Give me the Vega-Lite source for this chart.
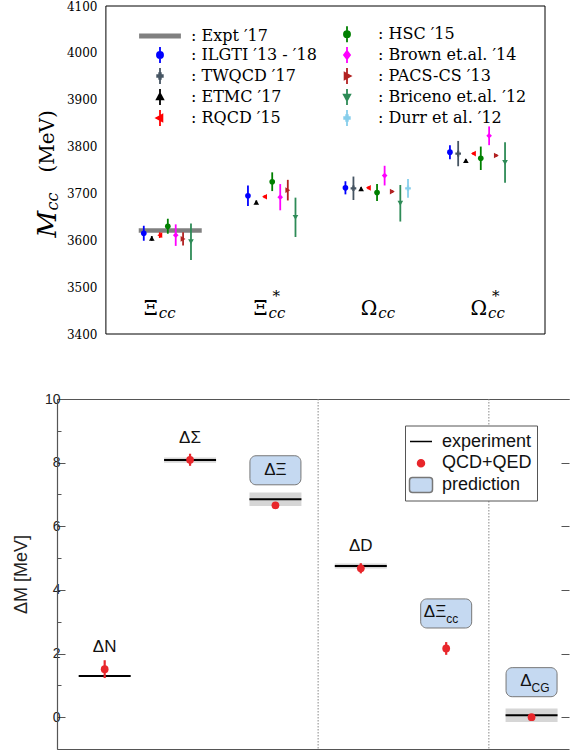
{
  "$schema": "https://vega.github.io/schema/vega-lite/v6.json",
  "background": "white",
  "padding": {"left": 12, "top": 0, "right": 0, "bottom": 0},
  "spacing": 52,
  "datasets": {
    "top": [
      {"collab": "ILGTI ′13 - ′18", "group": "Ξcc", "x": 0.345, "y": 3615, "lo": 3599, "hi": 3631},
      {"collab": "ETMC ′17", "group": "Ξcc", "x": 0.418, "y": 3604, "lo": 3599, "hi": 3609},
      {"collab": "RQCD ′15", "group": "Ξcc", "x": 0.491, "y": 3611, "lo": 3605, "hi": 3617},
      {"collab": "HSC ′15", "group": "Ξcc", "x": 0.564, "y": 3630, "lo": 3614, "hi": 3646},
      {"collab": "Brown et.al. ′14", "group": "Ξcc", "x": 0.636, "y": 3611, "lo": 3588, "hi": 3634},
      {"collab": "PACS-CS ′13", "group": "Ξcc", "x": 0.703, "y": 3603, "lo": 3589, "hi": 3617},
      {"collab": "Briceno et.al. ′12", "group": "Ξcc", "x": 0.775, "y": 3597, "lo": 3558, "hi": 3636},
      {"collab": "ILGTI ′13 - ′18", "group": "Ξ*cc", "x": 1.294, "y": 3695, "lo": 3673, "hi": 3717},
      {"collab": "ETMC ′17", "group": "Ξ*cc", "x": 1.370, "y": 3681, "lo": 3677, "hi": 3685},
      {"collab": "RQCD ′15", "group": "Ξ*cc", "x": 1.445, "y": 3693, "lo": 3690, "hi": 3696},
      {"collab": "HSC ′15", "group": "Ξ*cc", "x": 1.515, "y": 3725, "lo": 3705, "hi": 3745},
      {"collab": "Brown et.al. ′14", "group": "Ξ*cc", "x": 1.588, "y": 3692, "lo": 3664, "hi": 3720},
      {"collab": "PACS-CS ′13", "group": "Ξ*cc", "x": 1.657, "y": 3707, "lo": 3685, "hi": 3729},
      {"collab": "Briceno et.al. ′12", "group": "Ξ*cc", "x": 1.727, "y": 3649, "lo": 3607, "hi": 3691},
      {"collab": "ILGTI ′13 - ′18", "group": "Ωcc", "x": 2.182, "y": 3712, "lo": 3698, "hi": 3726},
      {"collab": "TWQCD ′17", "group": "Ωcc", "x": 2.255, "y": 3711, "lo": 3686, "hi": 3736},
      {"collab": "ETMC ′17", "group": "Ωcc", "x": 2.325, "y": 3710, "lo": 3707, "hi": 3713},
      {"collab": "RQCD ′15", "group": "Ωcc", "x": 2.391, "y": 3712, "lo": 3709, "hi": 3715},
      {"collab": "HSC ′15", "group": "Ωcc", "x": 2.470, "y": 3702, "lo": 3684, "hi": 3720},
      {"collab": "Brown et.al. ′14", "group": "Ωcc", "x": 2.539, "y": 3738, "lo": 3717, "hi": 3759},
      {"collab": "PACS-CS ′13", "group": "Ωcc", "x": 2.609, "y": 3704, "lo": 3701, "hi": 3707},
      {"collab": "Briceno et.al. ′12", "group": "Ωcc", "x": 2.682, "y": 3679, "lo": 3640, "hi": 3718},
      {"collab": "Durr et al. ′12", "group": "Ωcc", "x": 2.752, "y": 3711, "lo": 3691, "hi": 3731},
      {"collab": "ILGTI ′13 - ′18", "group": "Ω*cc", "x": 3.134, "y": 3788, "lo": 3773, "hi": 3803},
      {"collab": "TWQCD ′17", "group": "Ω*cc", "x": 3.209, "y": 3785, "lo": 3758, "hi": 3812},
      {"collab": "ETMC ′17", "group": "Ω*cc", "x": 3.279, "y": 3770, "lo": 3767, "hi": 3773},
      {"collab": "RQCD ′15", "group": "Ω*cc", "x": 3.348, "y": 3785, "lo": 3782, "hi": 3788},
      {"collab": "HSC ′15", "group": "Ω*cc", "x": 3.415, "y": 3775, "lo": 3750, "hi": 3800},
      {"collab": "Brown et.al. ′14", "group": "Ω*cc", "x": 3.491, "y": 3823, "lo": 3803, "hi": 3843},
      {"collab": "PACS-CS ′13", "group": "Ω*cc", "x": 3.557, "y": 3781, "lo": 3778, "hi": 3784},
      {"collab": "Briceno et.al. ′12", "group": "Ω*cc", "x": 3.636, "y": 3766, "lo": 3723, "hi": 3809}
    ],
    "expt": [{"collab": "Expt ′17", "group": "Ξcc", "x": 0.586, "y": 3621}],
    "cats": [
      {"main": "Ξ", "sub": "cc", "sup": "", "x": 0.5},
      {"main": "Ξ", "sub": "cc", "sup": "*", "x": 1.5},
      {"main": "Ω", "sub": "cc", "sup": "", "x": 2.5},
      {"main": "Ω", "sub": "cc", "sup": "*", "x": 3.5}
    ],
    "bottom": [
      {"name": "ΔN", "main": "ΔN", "sub": "", "pred": "no", "x": 0.5, "exp": 1.293, "explo": 1.283, "exphi": 1.303, "qcd": 1.51, "lo": 1.23, "hi": 1.79},
      {"name": "ΔΣ", "main": "ΔΣ", "sub": "", "pred": "no", "x": 1.5, "exp": 8.08, "explo": 8.0, "exphi": 8.16, "qcd": 8.09, "lo": 7.9, "hi": 8.28},
      {"name": "ΔΞ", "main": "ΔΞ", "sub": "", "pred": "yes", "x": 2.5, "exp": 6.85, "explo": 6.64, "exphi": 7.06, "qcd": 6.66, "lo": 6.6, "hi": 6.72},
      {"name": "ΔD", "main": "ΔD", "sub": "", "pred": "no", "x": 3.5, "exp": 4.75, "explo": 4.67, "exphi": 4.83, "qcd": 4.68, "lo": 4.52, "hi": 4.84},
      {"name": "ΔΞcc", "main": "ΔΞ", "sub": "cc", "pred": "yes", "x": 4.5, "exp": null, "explo": null, "exphi": null, "qcd": 2.16, "lo": 1.96, "hi": 2.36},
      {"name": "ΔCG", "main": "Δ", "sub": "CG", "pred": "yes", "x": 5.5, "exp": 0.06, "explo": -0.15, "exphi": 0.27, "qcd": 0.0, "lo": -0.08, "hi": 0.08}
    ],
    "sep": [{"x": 3}, {"x": 5}],
    "frame": [{"panel": "top"}]
  },
  "vconcat": [
    {
      "width": 488,
      "height": 328,
      "view": {"stroke": null},
      "resolve": {
        "axis": {"y": "independent"},
        "scale": {"shape": "independent", "fill": "independent", "stroke": "independent"},
        "legend": {"shape": "independent", "fill": "independent", "stroke": "independent"}
      },
      "layer": [
        {
          "data": {"name": "frame"},
          "mark": {"type": "rect", "fill": "transparent", "stroke": "black", "strokeWidth": 1},
          "encoding": {
            "x": {"datum": 0, "type": "quantitative", "scale": {"domain": [-0.4455, 4], "nice": false, "zero": false}, "axis": null},
            "x2": {"datum": 4},
            "y": {"datum": 3400, "type": "quantitative", "scale": {"domain": [3400, 4100], "nice": false, "zero": false},
              "axis": {"orient": "left", "offset": -49, "values": [3400, 3500, 3600, 3700, 3800, 3900, 4000, 4100], "format": "d", "ticks": false, "domain": false, "grid": false, "labelFlush": false,
                "labelFont": "DejaVu Serif", "labelFontSize": 12, "labelColor": "black", "labelPadding": 9,
                "title": "(MeV)", "titleFont": "DejaVu Serif", "titleFontSize": 20, "titleFontWeight": "normal", "titleColor": "black",
                "titleX": -53, "titleY": 166, "titleAngle": 270, "titleAlign": "left", "titleBaseline": "alphabetic"}},
            "y2": {"datum": 4100}
          }
        },
        {
          "data": {"name": "expt"},
          "mark": {"type": "tick", "orient": "horizontal", "size": 63, "thickness": 4.5, "color": "#808080", "opacity": 1},
          "encoding": {
            "x": {"field": "x", "type": "quantitative", "axis": null},
            "y": {"field": "y", "type": "quantitative", "axis": null}
          }
        },
        {
          "data": {"name": "top"},
          "mark": {"type": "rule", "strokeWidth": 1.8},
          "encoding": {
            "x": {"field": "x", "type": "quantitative", "axis": null},
            "y": {"field": "lo", "type": "quantitative",
              "axis": {"orient": "left", "offset": -49, "labels": false, "ticks": false, "domain": false, "grid": false,
                "title": "M", "titleFont": "DejaVu Serif", "titleFontSize": 26, "titleFontStyle": "italic", "titleFontWeight": "normal", "titleColor": "black",
                "titleX": -51, "titleY": 231, "titleAngle": 270, "titleAlign": "left", "titleBaseline": "alphabetic"}},
            "y2": {"field": "hi"},
            "color": {"field": "collab", "type": "nominal",
              "scale": {"domain": ["ILGTI ′13 - ′18", "TWQCD ′17", "ETMC ′17", "RQCD ′15", "HSC ′15", "Brown et.al. ′14", "PACS-CS ′13", "Briceno et.al. ′12", "Durr et al. ′12"],
                "range": ["#0000ff", "#465563", "#000000", "#ff0000", "#008000", "#ff00ff", "#b22222", "#2e8b57", "#87ceeb"]},
              "legend": null}
          }
        },
        {
          "data": {"name": "top"},
          "mark": {"type": "point", "filled": true, "opacity": 1, "size": 32},
          "encoding": {
            "x": {"field": "x", "type": "quantitative", "axis": null},
            "y": {"field": "y", "type": "quantitative",
              "axis": {"orient": "left", "offset": -49, "labels": false, "ticks": false, "domain": false, "grid": false,
                "title": "cc", "titleFont": "DejaVu Serif", "titleFontSize": 16, "titleFontStyle": "italic", "titleFontWeight": "normal", "titleColor": "black",
                "titleX": -49, "titleY": 204, "titleAngle": 270, "titleAlign": "left", "titleBaseline": "alphabetic"}},
            "color": {"field": "collab", "type": "nominal",
              "scale": {"domain": ["ILGTI ′13 - ′18", "TWQCD ′17", "ETMC ′17", "RQCD ′15", "HSC ′15", "Brown et.al. ′14", "PACS-CS ′13", "Briceno et.al. ′12", "Durr et al. ′12"],
                "range": ["#0000ff", "#465563", "#000000", "#ff0000", "#008000", "#ff00ff", "#b22222", "#2e8b57", "#87ceeb"]},
              "legend": null},
            "shape": {"field": "collab", "type": "nominal",
              "scale": {"domain": ["ILGTI ′13 - ′18", "TWQCD ′17", "ETMC ′17", "RQCD ′15", "HSC ′15", "Brown et.al. ′14", "PACS-CS ′13", "Briceno et.al. ′12", "Durr et al. ′12"],
                "range": ["circle", "cross", "triangle-up", "triangle-left", "circle", "diamond", "triangle-right", "triangle-down", "cross"]},
              "legend": null}
          }
        },
        {
          "data": {"name": "cats"},
          "mark": {"type": "text", "align": "right", "baseline": "alphabetic", "dx": -3, "font": "DejaVu Serif", "fontSize": 20, "color": "black"},
          "encoding": {
            "x": {"field": "x", "type": "quantitative", "axis": null},
            "y": {"datum": 3440, "type": "quantitative", "axis": null},
            "text": {"field": "main"}
          }
        },
        {
          "data": {"name": "cats"},
          "mark": {"type": "text", "align": "left", "baseline": "alphabetic", "dx": -2, "dy": 3, "font": "DejaVu Serif", "fontStyle": "italic", "fontSize": 15, "color": "black"},
          "encoding": {
            "x": {"field": "x", "type": "quantitative", "axis": null},
            "y": {"datum": 3440, "type": "quantitative", "axis": null},
            "text": {"field": "sub"}
          }
        },
        {
          "data": {"name": "cats"},
          "mark": {"type": "text", "align": "left", "baseline": "alphabetic", "dx": 2, "dy": -14, "font": "DejaVu Serif", "fontSize": 15, "color": "black"},
          "encoding": {
            "x": {"field": "x", "type": "quantitative", "axis": null},
            "y": {"datum": 3440, "type": "quantitative", "axis": null},
            "text": {"field": "sup"}
          }
        },
        {
          "data": {"values": []},
          "mark": {"type": "point", "filled": true, "opacity": 1},
          "encoding": {
            "x": {"field": "x", "type": "quantitative", "axis": null},
            "y": {"field": "y", "type": "quantitative", "axis": null},
            "fill": {"field": "collab", "type": "nominal",
              "scale": {"domain": ["Expt ′17", "ILGTI ′13 - ′18", "TWQCD ′17", "ETMC ′17", "RQCD ′15", "HSC ′15", "Brown et.al. ′14", "PACS-CS ′13", "Briceno et.al. ′12", "Durr et al. ′12"],
                "range": ["#808080", "#0000ff", "#465563", "#000000", "#ff0000", "#008000", "#ff00ff", "#b22222", "#2e8b57", "#87ceeb"]},
              "legend": {"orient": "none", "legendX": 94, "legendY": 19, "columns": 2, "columnPadding": 21, "rowPadding": -3.2, "gridAlign": "each", "symbolSize": 256, "symbolStrokeWidth": 1.8, "symbolOpacity": 1,
                "labelFont": "DejaVu Serif", "labelFontSize": 16, "labelColor": "black", "labelOffset": 22, "labelLimit": 400, "labelExpr": "': ' + datum.label", "title": null, "padding": 0}},
            "stroke": {"field": "collab", "type": "nominal",
              "scale": {"domain": ["Expt ′17", "ILGTI ′13 - ′18", "TWQCD ′17", "ETMC ′17", "RQCD ′15", "HSC ′15", "Brown et.al. ′14", "PACS-CS ′13", "Briceno et.al. ′12", "Durr et al. ′12"],
                "range": ["#808080", "#0000ff", "#465563", "#000000", "#ff0000", "#008000", "#ff00ff", "#b22222", "#2e8b57", "#87ceeb"]},
              "legend": {"orient": "none", "legendX": 94, "legendY": 19, "columns": 2, "columnPadding": 21, "rowPadding": -3.2, "gridAlign": "each", "symbolSize": 256, "symbolStrokeWidth": 1.8, "symbolOpacity": 1,
                "labelFont": "DejaVu Serif", "labelFontSize": 16, "labelColor": "black", "labelOffset": 22, "labelLimit": 400, "labelExpr": "': ' + datum.label", "title": null, "padding": 0}},
            "shape": {"field": "collab", "type": "nominal",
              "scale": {"domain": ["Expt ′17", "ILGTI ′13 - ′18", "TWQCD ′17", "ETMC ′17", "RQCD ′15", "HSC ′15", "Brown et.al. ′14", "PACS-CS ′13", "Briceno et.al. ′12", "Durr et al. ′12"],
                "range": [
                  "M-2.5,-0.2H2.5V0.2H-2.5Z",
                  "M0,-1V1M0.38,0A0.38,0.38,0,1,1,-0.38,0A0.38,0.38,0,1,1,0.38,0Z",
                  "M0,-1V1M-0.35,-0.1H-0.1V-0.35H0.1V-0.1H0.35V0.1H0.1V0.35H-0.1V0.1H-0.35Z",
                  "M0,-1V1M0,-0.45L0.4,0.3L-0.4,0.3Z",
                  "M0,-1V1M-0.45,0L0.3,-0.4L0.3,0.4Z",
                  "M0,-1V1M0.38,0A0.38,0.38,0,1,1,-0.38,0A0.38,0.38,0,1,1,0.38,0Z",
                  "M0,-1V1M0,-0.5L0.38,0L0,0.5L-0.38,0Z",
                  "M0,-1V1M0.45,0L-0.3,-0.4L-0.3,0.4Z",
                  "M0,-1V1M0,0.45L0.4,-0.3L-0.4,-0.3Z",
                  "M0,-1V1M-0.35,-0.1H-0.1V-0.35H0.1V-0.1H0.35V0.1H0.1V0.35H-0.1V0.1H-0.35Z"
                ]},
              "legend": {"orient": "none", "legendX": 94, "legendY": 19, "columns": 2, "columnPadding": 21, "rowPadding": -3.2, "gridAlign": "each", "symbolSize": 256, "symbolStrokeWidth": 1.8, "symbolOpacity": 1,
                "labelFont": "DejaVu Serif", "labelFontSize": 16, "labelColor": "black", "labelOffset": 22, "labelLimit": 400, "labelExpr": "': ' + datum.label", "title": null, "padding": 0}}
          }
        }
      ]
    },
    {
      "width": 512,
      "height": 350,
      "view": {"stroke": null},
      "resolve": {
        "axis": {"x": "independent", "y": "independent"},
        "scale": {"shape": "independent", "fill": "independent", "stroke": "independent"},
        "legend": {"shape": "independent", "fill": "independent", "stroke": "independent"}
      },
      "layer": [
        {
          "data": {"name": "sep"},
          "mark": {"type": "rule", "strokeDash": [1.5, 1.5], "color": "#888888", "strokeWidth": 1},
          "encoding": {
            "x": {"field": "x", "type": "quantitative", "scale": {"domain": [0, 5.88], "nice": false, "zero": false},
              "axis": {"orient": "bottom", "domain": true, "domainColor": "#555555", "domainWidth": 1.2, "ticks": false, "labels": false, "grid": false, "title": null}}
          }
        },
        {
          "data": {"name": "bottom"},
          "mark": {"type": "bar", "width": 52, "color": "#d6d6d6"},
          "encoding": {
            "x": {"field": "x", "type": "quantitative",
              "axis": {"orient": "top", "domain": true, "domainColor": "#555555", "domainWidth": 1.2, "ticks": false, "labels": false, "grid": false, "title": null}},
            "y": {"field": "explo", "type": "quantitative", "scale": {"domain": [-1, 10], "nice": false, "zero": false},
              "axis": {"orient": "left", "values": [0, 2, 4, 6, 8, 10], "tickSize": -8, "tickColor": "#555555", "domainColor": "#555555", "domainWidth": 1.2, "grid": false,
                "labelFont": "Liberation Sans", "labelFontSize": 14, "labelColor": "#222222", "labelPadding": 5, "labelFlush": false,
                "title": "ΔM [MeV]", "titleFont": "Liberation Sans", "titleFontSize": 18, "titleFontWeight": "normal", "titleColor": "#222222", "titlePadding": 14}},
            "y2": {"field": "exphi"}
          }
        },
        {
          "data": {"name": "bottom"},
          "mark": {"type": "tick", "orient": "horizontal", "size": 52, "thickness": 2, "color": "black", "opacity": 1},
          "encoding": {
            "x": {"field": "x", "type": "quantitative", "axis": null},
            "y": {"field": "exp", "type": "quantitative",
              "axis": {"orient": "left", "values": [-1, 1, 3, 5, 7, 9], "tickSize": -4, "tickColor": "#555555", "domain": false, "labels": false, "grid": false, "title": null}}
          }
        },
        {
          "data": {"name": "bottom"},
          "mark": {"type": "rule", "strokeWidth": 2.2, "color": "#e8262b"},
          "encoding": {
            "x": {"field": "x", "type": "quantitative", "axis": null},
            "y": {"field": "lo", "type": "quantitative",
              "axis": {"orient": "right", "values": [0, 2, 4, 6, 8, 10], "tickSize": -8, "tickColor": "#555555", "domain": false, "labels": false, "grid": false, "title": null}},
            "y2": {"field": "hi"}
          }
        },
        {
          "data": {"name": "bottom"},
          "mark": {"type": "point", "filled": true, "opacity": 1, "size": 60, "color": "#e8262b"},
          "encoding": {
            "x": {"field": "x", "type": "quantitative", "axis": null},
            "y": {"field": "qcd", "type": "quantitative", "axis": null}
          }
        },
        {
          "data": {"name": "bottom"},
          "transform": [{"filter": "datum.pred == 'yes'"}],
          "mark": {"type": "point", "filled": true, "opacity": 1, "size": 2601, "yOffset": -35, "fill": "#c5d9f1", "stroke": "#777777", "strokeWidth": 1,
            "shape": "M-0.76,-0.57H0.76A0.24,0.24,0,0,1,1,-0.33V0.33A0.24,0.24,0,0,1,0.76,0.57H-0.76A0.24,0.24,0,0,1,-1,0.33V-0.33A0.24,0.24,0,0,1,-0.76,-0.57Z"},
          "encoding": {
            "x": {"field": "x", "type": "quantitative", "axis": null},
            "y": {"field": "qcd", "type": "quantitative", "axis": null}
          }
        },
        {
          "data": {"name": "bottom"},
          "transform": [{"filter": "datum.pred == 'no'"}],
          "mark": {"type": "text", "align": "center", "baseline": "middle", "dy": -22, "font": "Liberation Sans", "fontSize": 17, "color": "#111111"},
          "encoding": {
            "x": {"field": "x", "type": "quantitative", "axis": null},
            "y": {"field": "qcd", "type": "quantitative", "axis": null},
            "text": {"field": "main"}
          }
        },
        {
          "data": {"name": "bottom"},
          "transform": [{"filter": "datum.pred == 'yes' && datum.sub == ''"}],
          "mark": {"type": "text", "align": "center", "baseline": "middle", "dy": -35, "font": "Liberation Sans", "fontSize": 17, "color": "#111111"},
          "encoding": {
            "x": {"field": "x", "type": "quantitative", "axis": null},
            "y": {"field": "qcd", "type": "quantitative", "axis": null},
            "text": {"field": "main"}
          }
        },
        {
          "data": {"name": "bottom"},
          "transform": [{"filter": "datum.sub != ''"}],
          "mark": {"type": "text", "align": "right", "baseline": "middle", "dx": 0, "dy": -36, "font": "Liberation Sans", "fontSize": 17, "color": "#111111"},
          "encoding": {
            "x": {"field": "x", "type": "quantitative", "axis": null},
            "y": {"field": "qcd", "type": "quantitative", "axis": null},
            "text": {"field": "main"}
          }
        },
        {
          "data": {"name": "bottom"},
          "transform": [{"filter": "datum.sub != ''"}],
          "mark": {"type": "text", "align": "left", "baseline": "middle", "dx": 0, "dy": -29, "font": "Liberation Sans", "fontSize": 12, "color": "#111111"},
          "encoding": {
            "x": {"field": "x", "type": "quantitative", "axis": null},
            "y": {"field": "qcd", "type": "quantitative", "axis": null},
            "text": {"field": "sub"}
          }
        },
        {
          "data": {"values": []},
          "mark": {"type": "point", "filled": true, "opacity": 1},
          "encoding": {
            "x": {"field": "x", "type": "quantitative", "axis": null},
            "y": {"field": "y", "type": "quantitative", "axis": null},
            "fill": {"field": "kind", "type": "nominal",
              "scale": {"domain": ["experiment", "QCD+QED", "prediction"], "range": ["transparent", "#e8262b", "#c5d9f1"]},
              "legend": {"orient": "none", "legendX": 348, "legendY": 26.5, "direction": "vertical", "symbolSize": 400, "symbolStrokeWidth": 1.5, "symbolOpacity": 1,
                "labelFont": "Liberation Sans", "labelFontSize": 18, "labelColor": "#111111", "labelOffset": 10, "rowPadding": 1.7, "padding": 5,
                "labelExpr": "datum.label + '\u2003'",
                "strokeColor": "#555555", "fillColor": "white", "title": null}},
            "stroke": {"field": "kind", "type": "nominal",
              "scale": {"domain": ["experiment", "QCD+QED", "prediction"], "range": ["#000000", "#e8262b", "#777777"]},
              "legend": {"orient": "none", "legendX": 348, "legendY": 26.5, "direction": "vertical", "symbolSize": 400, "symbolStrokeWidth": 1.5, "symbolOpacity": 1,
                "labelFont": "Liberation Sans", "labelFontSize": 18, "labelColor": "#111111", "labelOffset": 10, "rowPadding": 1.7, "padding": 5,
                "labelExpr": "datum.label + '\u2003'",
                "strokeColor": "#555555", "fillColor": "white", "title": null}},
            "shape": {"field": "kind", "type": "nominal",
              "scale": {"domain": ["experiment", "QCD+QED", "prediction"],
                "range": [
                  "M-1.1,0H1.1",
                  "M0.35,0A0.35,0.35,0,1,1,-0.35,0A0.35,0.35,0,1,1,0.35,0Z",
                  "M-0.85,-0.75H0.85A0.3,0.3,0,0,1,1.15,-0.45V0.45A0.3,0.3,0,0,1,0.85,0.75H-0.85A0.3,0.3,0,0,1,-1.15,0.45V-0.45A0.3,0.3,0,0,1,-0.85,-0.75Z"
                ]},
              "legend": {"orient": "none", "legendX": 348, "legendY": 26.5, "direction": "vertical", "symbolSize": 400, "symbolStrokeWidth": 1.5, "symbolOpacity": 1,
                "labelFont": "Liberation Sans", "labelFontSize": 18, "labelColor": "#111111", "labelOffset": 10, "rowPadding": 1.7, "padding": 5,
                "labelExpr": "datum.label + '\u2003'",
                "strokeColor": "#555555", "fillColor": "white", "title": null}}
          }
        }
      ]
    }
  ]
}
